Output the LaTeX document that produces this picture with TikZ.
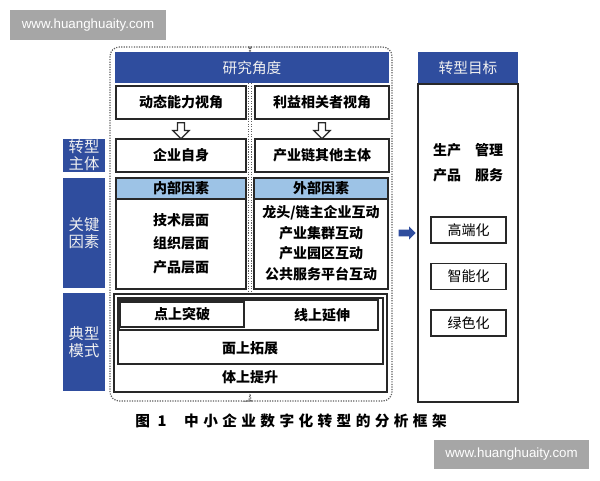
\documentclass[tikz,border=0pt]{standalone}
\usepackage{fontspec}
\setsansfont{Liberation Sans}
\newfontfamily\cjk{Noto Sans CJK SC}
\newfontfamily\capfont[LetterSpace=30]{Noto Sans CJK SC}
\usetikzlibrary{shapes.arrows, arrows, positioning, math, calc}

\definecolor{headBlue}{RGB}{47,77,158}
\definecolor{bandBlue}{RGB}{157,195,230}
\definecolor{lineGray}{RGB}{40,40,40}
\definecolor{markGray}{RGB}{166,166,166}

\begin{document}
\begin{tikzpicture}[x=0.75pt, y=-0.75pt]
			\tikzmath{
				\colW  = 130*0.75;   %left column width
				\colWr = 134*0.75;   %right column width
				\rowH  = 33*0.75;    %row height
				\tagW  = 42*0.75;    %side tag width
				\goalW = 75*0.75;    %goal box width
				\goalH = 26*0.75;    %goal box height
			}
			\tikzstyle{Box} = [
				draw=lineGray,
				line width=1pt,
				fill=white,
				inner sep=0pt,
				font=\cjk\bfseries\fontsize{10.5}{12}\selectfont
			]
			\tikzstyle{Head} = [
				fill=headBlue,
				inner sep=0pt,
				text=white!88!gray,
				font=\cjk\fontsize{11}{12}\selectfont
			]
			\tikzstyle{Tag} = [
				Head,
				align=center,
				minimum width=\tagW pt,
				font=\cjk\fontsize{11.5}{12.75}\selectfont
			]
			\tikzstyle{Item} = [
				inner sep=0pt,
				font=\cjk\bfseries\fontsize{10.5}{12}\selectfont
			]
			\tikzstyle{Band} = [
				Box,
				fill=bandBlue
			]
			\tikzstyle{Hollow} = [
				single arrow,
				draw=lineGray,
				fill=white,
				line width=0.9pt,
				minimum height=12pt,
				single arrow head extend=3.5pt,
				single arrow head indent=0pt,
				inner sep=2.2pt,
				rotate=-90
			]
			\tikzstyle{Frame} = [
				draw=gray!75!black,
				densely dotted,
				line width=0.9pt,
				rounded corners=7pt
			]
			\tikzstyle{Mark} = [
				fill=markGray,
				text=white,
				inner sep=0pt,
				font=\sffamily\fontsize{10}{12}\selectfont
			]
			\useasboundingbox (0,0) rectangle (600,480);

			% dotted frame round the two columns
			\coordinate (midTop) at (250,83);
			\coordinate (midBot) at (250,294);
			\draw [Frame] (250,54) to[out=90, in=0] (243,47) -- (110,47) -- (110,401) -- (243,401) to[out=0, in=-90] (250,394);
			\draw [Frame] (250,54) to[out=90, in=180] (257,47) -- (392,47) -- (392,401) -- (257,401) to[out=180, in=-90] (250,394);
			\draw [Frame] ($(midTop) + (-1.5,0)$) -- ($(midBot) + (-1.5,0)$);
			\draw [Frame] ($(midTop) + (1.5,0)$) -- ($(midBot) + (1.5,0)$);

			\node (head) [Head, minimum width=274*0.75pt, minimum height=31*0.75pt] at (252,67.5) {研究角度};

			\node (dyn) [Box, minimum width=\colW pt, minimum height=\rowH pt] at (181,102.5) {动态能力视角};
			\node (stake) [Box, minimum width=\colWr pt, minimum height=\rowH pt] at (322,102.5) {利益相关者视角};
			\node (self) [Box, minimum width=\colW pt, minimum height=\rowH pt] at (181,155.5) {企业自身};
			\node (chain) [Box, minimum width=\colWr pt, minimum height=\rowH pt] at (322,155.5) {产业链其他主体};
			\node (downL) [Hollow] at ($(dyn.south)!0.5!(self.north)$) {};
			\node (downR) [Hollow] at ($(stake.south)!0.5!(chain.north)$) {};

			% side tags
			\node (tagSubj) [Tag, minimum height=\rowH pt] at (84,155.5) {转型\\主体};
			\node (tagKey) [Tag, minimum height=110*0.75pt] at (84,233) {关键\\因素};
			\node (tagMode) [Tag, minimum height=98*0.75pt] at (84,342) {典型\\模式};

			% key factors
			\node (inFac) [Box, minimum width=\colW pt, minimum height=111*0.75pt] at (181,233.5) {};
			\node (inHead) [Band, anchor=north, minimum width=\colW pt, minimum height=21*0.75pt] at (inFac.north) {内部因素};
			\node (tech) [Item] at (181,220) {技术层面};
			\node (org) [Item] at (181,243) {组织层面};
			\node (prod) [Item] at (181,267) {产品层面};

			\node (exFac) [Box, minimum width=\colWr pt, minimum height=111*0.75pt] at (321,233.5) {};
			\node (exHead) [Band, anchor=north, minimum width=\colWr pt, minimum height=21*0.75pt] at (exFac.north) {外部因素};
			\node (lead) [Item] at (321,213) {龙头/链主企业互动};
			\node (clus) [Item] at (321,233) {产业集群互动};
			\node (park) [Item] at (321,253) {产业园区互动};
			\node (plat) [Item] at (321,274) {公共服务平台互动};

			% typical modes
			\node (modeBody) [Box, minimum width=273*0.75pt, minimum height=98*0.75pt] at (250.5,343) {};
			\node (modeFace) [Box, minimum width=265*0.75pt, minimum height=66*0.75pt] at (250.5,331) {};
			\node (modeLine) [Box, minimum width=259*0.75pt, minimum height=30*0.75pt] at (248.5,315) {};
			\node (modePoint) [Box, minimum width=124*0.75pt, minimum height=25*0.75pt] at (182,314.5) {点上突破};
			\node (lineTxt) [Item] at (322,315) {线上延伸};
			\node (faceTxt) [Item] at (250,348) {面上拓展};
			\node (bodyTxt) [Item] at (250,377) {体上提升};

			% goals
			\node (goalBody) [Box, minimum width=100*0.75pt, minimum height=318*0.75pt] at (468,243) {};
			\node (goalHead) [Head, above=0pt of goalBody, minimum width=100*0.75pt, minimum height=31*0.75pt] {转型目标};
			\node (goalTxt) [Item, align=center, font=\cjk\bfseries\fontsize{10.5}{18.75}\selectfont] at (468,162.5) {生产\hspace{1em}管理\\产品\hspace{1em}服务};
			\node (high) [Box, font=\cjk\fontsize{10.5}{12}\selectfont, minimum width=\goalW pt, minimum height=\goalH pt] at (468.5,230) {高端化};
			\node (smart) [Box, font=\cjk\fontsize{10.5}{12}\selectfont, minimum width=\goalW pt, minimum height=\goalH pt, below=14.25pt of high] {智能化};
			\node (green) [Box, font=\cjk\fontsize{10.5}{12}\selectfont, minimum width=\goalW pt, minimum height=\goalH pt, below=14.5pt of smart] {绿色化};
			\node (toGoal) [single arrow, fill=headBlue, minimum height=12.75pt, single arrow head extend=2.5pt, inner sep=2.3pt] at (405.5,233) {};

			% caption and marks
			\node (cap) [font=\capfont\bfseries\fontsize{11}{12}\selectfont] at (291,421) {图 1\hspace{1.2em}中小企业数字化转型的分析框架};
			\node (markTop) [Mark, minimum width=156*0.75pt, minimum height=30*0.75pt] at (88,25) {www.huanghuaity.com};
			\node (markBot) [Mark, minimum width=155*0.75pt, minimum height=29*0.75pt] at (511.5,454.5) {www.huanghuaity.com};
\end{tikzpicture}
\end{document}
